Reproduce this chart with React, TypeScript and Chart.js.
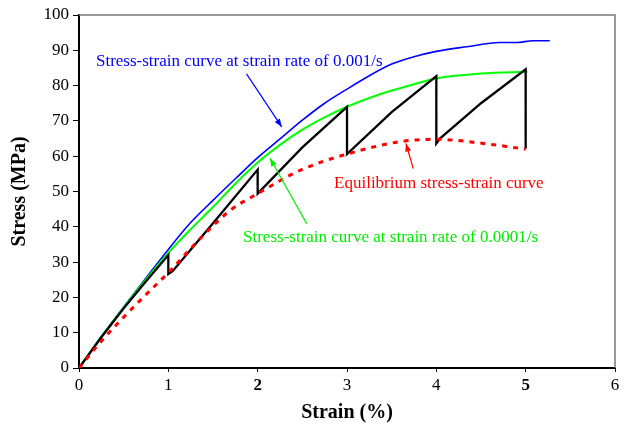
import React, { useEffect, useRef } from "react";
import { Chart, registerables } from "chart.js";

Chart.register(...registerables);

// ---- Data (strain %, stress MPa) ----
const blueStrain = [0, 0.25, 0.5, 0.75, 1.0, 1.25, 1.5, 1.75, 2.0, 2.25, 2.5, 2.75, 3.0, 3.25, 3.5, 3.75, 4.0, 4.34, 4.71, 4.9, 5.08, 5.27];
const blueStress = [0, 8.9, 17.3, 25.5, 33.6, 41.2, 47.5, 53.6, 59.6, 64.9, 70.2, 75, 79, 82.8, 86.1, 88.2, 89.7, 91, 92.2, 92.2, 92.7, 92.7];

const greenStrain = [0, 0.25, 0.5, 0.75, 1.0, 1.25, 1.5, 1.75, 2.0, 2.25, 2.5, 2.75, 3.0, 3.25, 3.5, 3.75, 4.0, 4.5, 5.02];
const greenStress = [0, 8.8, 17.1, 25.1, 32.6, 39.3, 45.6, 52.2, 58.2, 63.2, 67.5, 71, 74, 76.5, 78.6, 80.4, 82, 83.4, 83.9];

const blackStrain = [0, 0.25, 0.5, 0.75, 1.0, 1.0, 1.05, 1.5, 2.0, 2.0, 2.5, 3.0, 3.0, 3.5, 4.0, 4.0, 4.04, 4.5, 5.0, 5.0];
const blackStress = [0, 8.7, 16.9, 24.6, 32, 26.6, 27.5, 41, 56.2, 49.4, 62.5, 74, 60.6, 72.5, 82.7, 63.6, 65, 75, 84.6, 62.2];

const redStrain = [0, 0.25, 0.5, 0.75, 1.0, 1.35, 1.7, 2.0, 2.475, 3.0, 3.59, 4.0, 4.53, 4.86, 5.0];
const redStress = [0, 7.6, 14.4, 20.8, 27, 36.5, 44.8, 49.4, 56, 60.6, 64.1, 64.8, 63.6, 62.5, 62];

const xTicks = [0, 1, 2, 3, 4, 5, 6];
const boldXTicks = [2, 5];

const labelTexts = [
  "Stress-strain curve at strain rate of 0.001/s",
  "Equilibrium stress-strain curve",
  "Stress-strain curve at strain rate of 0.0001/s",
];

// annotation placement (data coordinates)
const ANNOTS = [
  { text: labelTexts[0], color: "#0000ff", tx: 0.19, ty: 85.5, ax1: 1.875, ay1: 83.3, ax2: 2.27, ay2: 68.3 },
  { text: labelTexts[1], color: "#ff0000", tx: 2.855, ty: 51.0, ax1: 3.742, ay1: 56.5, ax2: 3.66, ay2: 63.6 },
  { text: labelTexts[2], color: "#00ee00", tx: 1.836, ty: 35.7, ax1: 2.549, ay1: 40.9, ax2: 2.138, ay2: 59.4 },
];

const FONT = '"Liberation Serif", "Times New Roman", serif';

const toPts = (xs: number[], ys: number[]) => xs.map((x, i) => ({ x, y: ys[i] }));

const annotPlugin = {
  id: "annots",
  afterDatasetsDraw(chart: any) {
    const { ctx, chartArea, scales } = chart;
    const xs = scales.x;
    const ys = scales.y;
    ctx.save();
    // top & right frame
    ctx.strokeStyle = "#7a7a7a";
    ctx.lineWidth = 1.5;
    ctx.beginPath();
    ctx.moveTo(chartArea.left, chartArea.top);
    ctx.lineTo(chartArea.right, chartArea.top);
    ctx.lineTo(chartArea.right, chartArea.bottom);
    ctx.stroke();
    for (const a of ANNOTS) {
      ctx.fillStyle = a.color;
      ctx.font = `17px ${FONT}`;
      ctx.textAlign = "left";
      ctx.textBaseline = "alphabetic";
      ctx.fillText(a.text, xs.getPixelForValue(a.tx), ys.getPixelForValue(a.ty));
      const x1 = xs.getPixelForValue(a.ax1);
      const y1 = ys.getPixelForValue(a.ay1);
      const x2 = xs.getPixelForValue(a.ax2);
      const y2 = ys.getPixelForValue(a.ay2);
      ctx.strokeStyle = a.color;
      ctx.lineWidth = 1.2;
      ctx.beginPath();
      ctx.moveTo(x1, y1);
      ctx.lineTo(x2, y2);
      ctx.stroke();
      const ang = Math.atan2(y2 - y1, x2 - x1);
      const L = 8, W = 3;
      ctx.beginPath();
      ctx.moveTo(x2, y2);
      ctx.lineTo(x2 - L * Math.cos(ang) + W * Math.sin(ang), y2 - L * Math.sin(ang) - W * Math.cos(ang));
      ctx.lineTo(x2 - L * Math.cos(ang) - W * Math.sin(ang), y2 - L * Math.sin(ang) + W * Math.cos(ang));
      ctx.closePath();
      ctx.fill();
    }
    ctx.restore();
  },
};

export default function App() {
  const ref = useRef<HTMLCanvasElement | null>(null);
  useEffect(() => {
    if (!ref.current) return;
    const chart = new Chart(ref.current, {
      type: "scatter",
      data: {
        datasets: [
          {
            label: "Equilibrium",
            data: toPts(redStrain, redStress),
            showLine: true,
            borderColor: "#ff0000",
            borderWidth: 3,
            borderDash: [5, 6],
            pointRadius: 0,
            cubicInterpolationMode: "monotone",
            order: 0,
          },
          {
            label: "Stepwise",
            data: toPts(blackStrain, blackStress),
            showLine: true,
            borderColor: "#000000",
            borderWidth: 2.3,
            pointRadius: 0,
            tension: 0,
            order: 1,
          },
          {
            label: "0.0001/s",
            data: toPts(greenStrain, greenStress),
            showLine: true,
            borderColor: "#00ff00",
            borderWidth: 2,
            pointRadius: 0,
            cubicInterpolationMode: "monotone",
            order: 2,
          },
          {
            label: "0.001/s",
            data: toPts(blueStrain, blueStress),
            showLine: true,
            borderColor: "#0000ff",
            borderWidth: 1.6,
            pointRadius: 0,
            cubicInterpolationMode: "monotone",
            order: 3,
          },
        ],
      },
      options: {
        responsive: false,
        animation: false,
        layout: { padding: { left: 0, top: 15, right: 17, bottom: 0 } },
        plugins: { legend: { display: false }, tooltip: { enabled: false } },
        scales: {
          x: {
            type: "linear",
            min: 0,
            max: 6,
            afterFit: (s: any) => { s.height = 57; },
            afterBuildTicks: (s: any) => { s.ticks = xTicks.map((v) => ({ value: v })); },
            border: { color: "#000", width: 2 },
            grid: { drawOnChartArea: false, drawTicks: true, tickLength: 4, tickColor: "#000", tickWidth: 1 },
            ticks: {
              color: "#000",
              padding: 3,
              maxRotation: 0,
              font: (c: any) => ({
                family: FONT,
                size: 17,
                weight: c && c.tick && boldXTicks.includes(c.tick.value) ? "bold" : "normal",
              }),
            },
            title: {
              display: true,
              text: "Strain (%)",
              color: "#000",
              font: { family: FONT, size: 20, weight: "bold" },
              padding: { top: 0, bottom: 0 },
            },
          },
          y: {
            type: "linear",
            min: 0,
            max: 100,
            afterFit: (s: any) => { s.width = 79; },
            border: { color: "#000", width: 2 },
            grid: { drawOnChartArea: false, drawTicks: true, tickLength: 6, tickColor: "#000", tickWidth: 1 },
            ticks: { stepSize: 10, color: "#000", padding: 4, font: { family: FONT, size: 17 } },
            title: {
              display: true,
              text: "Stress (MPa)",
              color: "#000",
              font: { family: FONT, size: 20, weight: "bold" },
              padding: { top: 8, bottom: 0 },
            },
          },
        },
      },
      plugins: [annotPlugin],
    });
    return () => chart.destroy();
  }, []);
  return (
    <div style={{ position: "absolute", left: 0, top: 0, width: 632, height: 425, background: "#fff" }}>
      <canvas ref={ref} width={632} height={425} style={{ display: "block" }} />
    </div>
  );
}
